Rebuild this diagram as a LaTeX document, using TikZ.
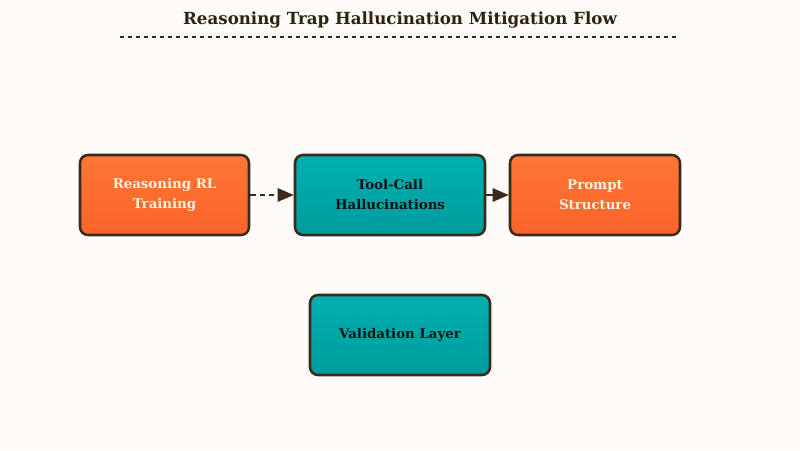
\documentclass[tikz,border=0pt]{standalone}
\usepackage{fontspec}
\setmainfont{DejaVu Serif}
\usetikzlibrary{arrows.meta}
\tikzset{>={Triangle[length=12pt,width=10pt]}}
\definecolor{bgcol}{HTML}{FFFBF8}
\definecolor{edgecol}{HTML}{3B2A1A}
\definecolor{orangeA}{HTML}{FF7636}
\definecolor{orangeB}{HTML}{F9642A}
\definecolor{tealA}{HTML}{00B0B0}
\definecolor{tealB}{HTML}{009C9E}
\definecolor{titlecol}{HTML}{2E2212}
\tikzset{
  box/.style={draw=edgecol, line width=1.9pt, rounded corners=6pt, align=center,
    minimum height=60pt, font=\bfseries\fontsize{10}{15}\selectfont},
  orangebox/.style={box, top color=orangeA, bottom color=orangeB, text=white!88!orange},
  tealbox/.style={box, top color=tealA, bottom color=tealB, text=black!85!teal},
}

\begin{document}
\begin{tikzpicture}[x=0.75pt,y=-0.75pt]
    \fill[bgcol] (0,0) rectangle (800,450);
    \node[font=\bfseries\fontsize{12.5}{16}\selectfont, text=titlecol] (title) at (400,20) {Reasoning Trap Hallucination Mitigation Flow};
    \draw[edgecol, dashed, line width=0.9pt] (120,37) -- (677,37);
    \node[orangebox, minimum width=126.75pt] (rl) at (164.5,195) {Reasoning RL\\Training};
    \node[tealbox, minimum width=142.5pt] (tool) at (390,195) {Tool-Call\\Hallucinations};
    \node[orangebox, minimum width=127.5pt] (prompt) at (595,195) {Prompt\\Structure};
    \node[tealbox, minimum width=135pt] (valid) at (400,335) {Validation Layer};
    \draw[->, edgecol, dash pattern=on 4pt off 3pt, line width=1.3pt] (rl) -- (tool);
    \draw[->, edgecol, line width=1.3pt] (tool) -- (prompt);
\end{tikzpicture}
\end{document}
